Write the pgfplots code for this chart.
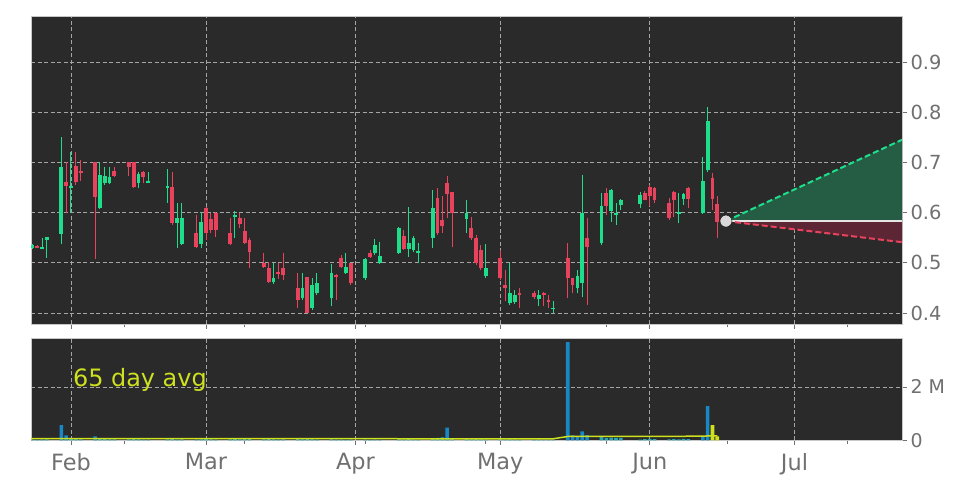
\documentclass[border=0pt]{standalone}
\usepackage{fontspec}
\setmainfont{DejaVu Sans}
\usepackage{pgfplots}
\usepackage{pgfplotstable}
\pgfplotsset{compat=1.18}

\definecolor{panel}{RGB}{42,42,42}
\definecolor{gridc}{RGB}{165,165,165}
\definecolor{txt}{RGB}{112,112,112}
\definecolor{upc}{RGB}{30,222,140}
\definecolor{dnc}{RGB}{232,66,92}
\definecolor{volblue}{RGB}{25,135,195}
\definecolor{volteal}{RGB}{40,165,178}
\definecolor{avgc}{RGB}{205,225,30}
\definecolor{upfill}{RGB}{36,92,68}
\definecolor{dnfill}{RGB}{92,38,52}

% day of year (Jan 1 = 0), open, high, low, close
\pgfplotstableread{
d o h l c
23 .529 .538 .528 .536
25 .528 .549 .527 .531
26 .546 .552 .510 .551
29 .557 .750 .537 .690
31 .648 .720 .600 .653
37 .610 .700 .608 .675
38 .658 .690 .655 .672
39 .658 .690 .656 .670
45 .658 .680 .648 .677
47 .659 .681 .659 .662
51 .649 .686 .619 .652
53 .579 .620 .529 .589
54 .537 .619 .535 .589
58 .537 .599 .529 .582
65 .591 .604 .549 .595
73 .462 .499 .458 .469
79 .429 .479 .425 .449
81 .409 .469 .405 .456
82 .439 .479 .435 .459
85 .429 .498 .413 .479
88 .479 .519 .478 .492
92 .469 .510 .465 .507
94 .519 .547 .515 .535
95 .499 .542 .498 .514
99 .519 .572 .518 .569
101 .528 .612 .511 .539
102 .525 .553 .522 .549
103 .519 .540 .500 .523
106 .549 .645 .529 .609
113 .587 .625 .559 .599
117 .474 .537 .470 .489
122 .419 .499 .415 .439
123 .421 .445 .418 .436
128 .428 .446 .413 .436
131 .407 .423 .400 .410
136 .449 .486 .439 .474
137 .459 .675 .432 .599
141 .539 .638 .535 .614
143 .604 .647 .582 .645
144 .595 .619 .575 .599
145 .616 .627 .605 .626
149 .617 .640 .610 .635
157 .598 .638 .579 .601
158 .627 .638 .615 .636
162 .599 .711 .598 .662
163 .685 .811 .680 .783
}\upt

\pgfplotstableread{
d o h l c
24 .533 .535 .529 .530
30 .660 .700 .600 .652
32 .692 .720 .655 .660
33 .683 .705 .662 .678
36 .700 .700 .507 .630
40 .682 .690 .671 .673
43 .700 .700 .672 .690
44 .700 .700 .648 .650
46 .680 .682 .658 .670
52 .650 .681 .575 .579
57 .559 .595 .530 .532
59 .609 .612 .545 .559
60 .587 .600 .560 .565
61 .599 .602 .552 .565
64 .560 .589 .535 .537
66 .590 .600 .570 .578
67 .563 .590 .538 .540
68 .545 .550 .489 .522
71 .500 .519 .490 .492
72 .489 .502 .460 .462
74 .482 .500 .468 .478
75 .489 .519 .466 .476
78 .449 .479 .409 .426
80 .471 .472 .399 .400
86 .476 .478 .426 .471
87 .509 .515 .490 .491
89 .499 .500 .455 .459
93 .520 .525 .510 .511
100 .553 .565 .525 .527
107 .629 .648 .555 .559
108 .585 .632 .560 .573
109 .658 .672 .590 .637
110 .640 .640 .532 .599
114 .569 .592 .545 .549
115 .549 .555 .495 .499
116 .525 .535 .485 .489
120 .509 .525 .465 .469
121 .456 .486 .423 .449
124 .440 .449 .409 .435
127 .439 .443 .428 .431
129 .439 .442 .413 .435
130 .426 .436 .410 .421
134 .509 .539 .429 .469
135 .469 .470 .439 .456
138 .549 .589 .416 .531
142 .638 .648 .595 .614
150 .638 .643 .625 .626
151 .650 .655 .614 .632
152 .648 .650 .620 .626
155 .619 .629 .586 .589
156 .640 .642 .592 .625
159 .648 .650 .609 .627
164 .668 .678 .605 .627
165 .617 .632 .549 .582
}\dnt

% volume in millions
\pgfplotstableread{
d v
29 .57
30 .19
36 .15
109 .48
134 3.67
135 .19
136 .15
137 .34
138 .20
162 .15
163 1.28
}\volbig

\pgfplotstableread{
d v
23 .03
24 .02
25 .03
26 .04
31 .06
32 .05
33 .04
37 .07
38 .05
39 .04
40 .04
43 .04
44 .05
45 .04
46 .03
47 .03
51 .04
52 .05
53 .03
54 .04
57 .03
58 .04
59 .05
60 .04
61 .03
64 .04
65 .05
66 .04
67 .05
68 .06
71 .04
72 .05
73 .04
74 .03
75 .04
78 .05
79 .04
80 .06
81 .04
82 .03
85 .04
86 .03
87 .03
88 .02
89 .03
92 .03
93 .02
94 .03
95 .02
99 .04
100 .03
101 .05
102 .03
103 .02
106 .08
107 .10
108 .12
110 .09
113 .05
114 .04
115 .05
116 .04
117 .03
120 .04
121 .03
122 .04
123 .03
124 .02
127 .02
128 .03
129 .02
130 .02
131 .03
141 .13
142 .10
143 .11
144 .10
145 .10
149 .03
150 .05
151 .06
152 .05
155 .04
156 .05
157 .04
158 .06
159 .05
}\volsmall

\pgfplotstableread{
d v
164 .57
165 .15
}\vollast

\pgfplotsset{
  panel/.style={
    scale only axis, width=871bp,
    xmin=22.71, xmax=203.3,
    axis background/.style={fill=panel},
    axis line style={draw=black!22, line width=0.8bp},
    grid=major,
    grid style={gridc, dash pattern=on 4bp off 2.5bp, line width=0.8bp},
    xtick={31,59,90,120,151,181},
    minor xtick={42,67,92,117,142,167,192},
    tick align=outside,
    major tick length=5bp, minor tick length=3.5bp,
    tick style={txt, line width=0.8bp},
    xtick pos=bottom, ytick pos=right, yticklabel pos=right,
    ticklabel style={txt},
  },
  wick/.style={draw=none, forget plot,
    error bars/.cd, y dir=plus, y explicit, error mark=none,
    error bar style={draw=#1, line width=1bp}},
  body/.style={draw=none, forget plot,
    error bars/.cd, y dir=plus, y explicit, error mark=none,
    error bar style={draw=#1, line width=3.8bp}},
  vol/.style={ybar, bar shift=0pt, bar width=3.6bp, draw=none, fill=#1, forget plot},
}

\begin{document}
\begin{tikzpicture}[x=1bp,y=1bp]
\path[use as bounding box, fill=white] (0,0) rectangle (972,486);

\begin{axis}[panel,
  at={(31bp,162bp)}, anchor=south west, height=308bp,
  ymin=0.378, ymax=0.9916,
  ytick={0.4,0.5,0.6,0.7,0.8,0.9},
  yticklabels={0.4,0.5,0.6,0.7,0.8,0.9},
  yticklabel style={font=\fontsize{19.5}{22}\selectfont},
  xticklabels={},
]
  % forecast band
  \addplot[fill=upfill, draw=none] coordinates {(166.8,0.583) (203.3,0.745) (203.3,0.583)};
  \addplot[fill=dnfill, draw=none] coordinates {(166.8,0.583) (203.3,0.583) (203.3,0.541)};
  \addplot[color=black!10, line width=2.2bp] coordinates {(166.8,0.583) (203.3,0.583)};
  \addplot[color=upc, line width=2bp, dash pattern=on 6bp off 3bp] coordinates {(166.8,0.583) (203.3,0.745)};
  \addplot[color=dnc, line width=2bp, dash pattern=on 6bp off 3bp] coordinates {(166.8,0.583) (203.3,0.541)};

  % candles
  \addplot[wick=upc] table[x=d, y=l, y error plus expr=\thisrow{h}-\thisrow{l}] {\upt};
  \addplot[body=upc] table[x=d, y=o, y error plus expr=\thisrow{c}-\thisrow{o}] {\upt};
  \addplot[wick=dnc] table[x=d, y=l, y error plus expr=\thisrow{h}-\thisrow{l}] {\dnt};
  \addplot[body=dnc] table[x=d, y=c, y error plus expr=\thisrow{o}-\thisrow{c}] {\dnt};

  \addplot[only marks, mark=*, mark size=6bp, mark options={fill=black!15, draw=none}] coordinates {(166.8,0.583)};
\end{axis}

\begin{axis}[panel,
  at={(31bp,45.5bp)}, anchor=south west, height=102bp,
  ymin=0, ymax=3.81,
  ytick={0,2}, yticklabels={0,2 M},
  yticklabel style={font=\fontsize{19}{22}\selectfont},
  xticklabels={Feb,Mar,Apr,May,Jun,Jul},
  xticklabel style={font=\fontsize{22.5}{26}\selectfont, yshift=-4bp},
]
  \addplot[vol=volteal] table[x=d, y=v] {\volsmall};
  \addplot[vol=volblue] table[x=d, y=v] {\volbig};
  \addplot[vol=avgc] table[x=d, y=v] {\vollast};
  \addplot[color=avgc, line width=1.5bp] coordinates {
    (22.71,0.07) (60,0.07) (100,0.065) (131,0.065) (134,0.15) (150,0.155) (162,0.16) (163,0.17) (165,0.17)};
  \node[anchor=base west, text=avgc, inner sep=0pt, font=\fontsize{24}{28}\selectfont]
    at (axis cs:31.4,2.0) {65 day avg};
\end{axis}
\end{tikzpicture}
\end{document}
